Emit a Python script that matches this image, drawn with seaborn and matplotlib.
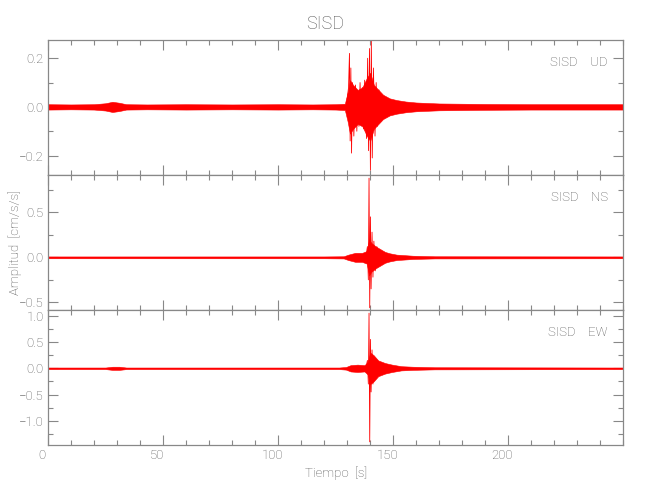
import numpy as np
import pandas as pd
import matplotlib
matplotlib.use("Agg")
import matplotlib.pyplot as plt
import matplotlib.transforms as mtransforms
from matplotlib.ticker import MultipleLocator, FuncFormatter
import seaborn as sns

# envelope of the dense noise band (half-width)
ud_env_t = [0, 10, 20, 25, 28, 31, 34, 43, 60, 80, 100, 115, 125, 129, 130.2, 131.2, 132.6, 134.6, 136.6,
            138.6, 140.0, 141.6, 143.6, 145.6, 148.5, 151.5, 155.5, 160, 170, 190, 210, 230, 250]
ud_env = [0.011, 0.010, 0.011, 0.015, 0.021, 0.017, 0.011, 0.010, 0.011, 0.010, 0.011, 0.010, 0.011, 0.013,
          0.06, 0.11, 0.09, 0.07, 0.08, 0.12, 0.14, 0.09, 0.07, 0.05, 0.035, 0.028, 0.022, 0.018, 0.014,
          0.012, 0.011, 0.011, 0.011]

ns_env_t = [0, 30, 60, 90, 120, 128.5, 130.5, 133.5, 136.5, 138.5, 139.5, 140.5, 142.5, 144.5, 146.5, 148.5,
            151.5, 154.5, 158.5, 168, 250]
ns_env = [0.01, 0.01, 0.01, 0.01, 0.01, 0.012, 0.03, 0.05, 0.05, 0.07, 0.2, 0.16, 0.12, 0.09, 0.06, 0.045,
          0.03, 0.025, 0.018, 0.012, 0.01]

ew_env_t = [0, 25, 28, 31, 34, 60, 100, 126.5, 129.5, 131.5, 134.5, 137.5, 139.0, 140.0, 141.5, 143.5,
            146.5, 149.5, 153.5, 158.5, 168, 250]
ew_env = [0.015, 0.015, 0.03, 0.03, 0.015, 0.015, 0.015, 0.015, 0.025, 0.06, 0.07, 0.06, 0.12, 0.3, 0.25,
          0.15, 0.1, 0.07, 0.04, 0.03, 0.02, 0.015]

# the big spikes, peak by peak
ud_pk_t = [129.6, 130.6, 131.0, 131.3, 131.6, 131.9, 132.3, 132.9, 133.6, 134.2, 134.6, 135.1, 135.6,
           136.1, 136.6, 137.1, 137.6, 138.4, 138.9, 139.3, 139.7, 140.1, 140.5, 140.9, 141.4, 142.1,
           142.6, 143.1, 143.8, 144.6, 145.6, 146.6]
ud_pk_v = [0.0, 0.08, 0.22, -0.14, 0.16, -0.19, 0.10, -0.12, 0.09, -0.10, 0.06, -0.08, 0.10, -0.07,
           0.08, -0.09, 0.11, -0.13, 0.20, -0.18, 0.24, -0.26, 0.27, -0.21, 0.16, -0.12, 0.10, -0.08,
           0.07, -0.06, 0.04, 0.0]

ns_pk_t = [138.1, 138.8, 139.2, 139.5, 139.8, 140.1, 140.4, 140.8, 141.2, 141.6, 142.2, 142.9, 143.8,
           145.1, 146.6]
ns_pk_v = [0.0, 0.12, -0.25, 0.88, -0.56, 0.45, -0.35, 0.28, -0.22, 0.18, -0.15, 0.12, -0.08, 0.05, 0.0]

ew_pk_t = [138.1, 138.8, 139.2, 139.5, 139.8, 140.1, 140.4, 140.8, 141.2, 141.6, 142.2, 142.9, 143.8,
           145.1, 146.6]
ew_pk_v = [0.0, 0.15, -0.3, 1.05, -1.40, 0.55, -0.45, 0.35, -0.30, 0.22, -0.18, 0.12, -0.08, 0.05, 0.0]

components = ["UD", "NS", "EW"]
xticks = [0, 50, 100, 150, 200]
ylims = [(-0.28, 0.275), (-0.585, 0.915), (-1.46, 1.11)]
ymajor = [0.2, 0.5, 0.5]
yminor = [0.1, 0.25, 0.25]

sns.set_theme(style="ticks")
plt.rcParams['font.family'] = ['Roboto', 'DejaVu Sans']
plt.rcParams['font.weight'] = 'light'
grey = "#888888"
txt = "#555555"


def fmt(v, pos):
    return f"{v:.1f}".replace("-", "\u2212")


fig, axes = plt.subplots(3, 1, figsize=(6.5, 5), dpi=100, sharex=True)
fig.subplots_adjust(left=0.0738, right=0.959, top=0.92, bottom=0.11, hspace=0)

envs = [(ud_env_t, ud_env), (ns_env_t, ns_env), (ew_env_t, ew_env)]
peaks = [(ud_pk_t, ud_pk_v), (ns_pk_t, ns_pk_v), (ew_pk_t, ew_pk_v)]

for i, ax in enumerate(axes):
    et, ev = envs[i]
    et = np.array(et)
    ev = np.array(ev)
    ax.fill_between(et, -ev, ev, color="red", lw=0.4)
    pt, pv = peaks[i]
    df = pd.DataFrame({"t": pt, "v": pv})
    sns.lineplot(data=df, x="t", y="v", ax=ax, color="red", lw=0.6,
                 estimator=None, sort=False, clip_on=False)
    ax.set_xlim(0, 250)
    ax.set_ylim(*ylims[i])
    ax.set_xlabel("")
    ax.set_ylabel("")
    ax.set_xticks(xticks)
    ax.xaxis.set_minor_locator(MultipleLocator(10))
    ax.yaxis.set_major_locator(MultipleLocator(ymajor[i]))
    ax.yaxis.set_minor_locator(MultipleLocator(yminor[i]))
    ax.yaxis.set_major_formatter(FuncFormatter(fmt))
    ax.tick_params(which="both", direction="in", top=True, right=True, colors=grey,
                   labelcolor=txt, labelsize=9.5, width=0.8, pad=3)
    ax.tick_params(which="major", length=7)
    ax.tick_params(which="minor", length=3.6)
    for s in ax.spines.values():
        s.set_color(grey)
        s.set_linewidth(0.9)
    ax.text(0.973, 0.837, "SISD    " + components[i], transform=ax.transAxes,
            ha="right", va="center", fontsize=9.5, color=txt)

# x tick labels sit a little left of their ticks in the original
shift = mtransforms.ScaledTranslation(-0.06, 0, fig.dpi_scale_trans)
for lab in axes[2].get_xticklabels():
    lab.set_transform(lab.get_transform() + shift)

axes[2].set_xlabel("Tiempo  [s]", fontsize=9.5, color=txt, fontweight="light", labelpad=3)
fig.text(0.023, 0.515, "Amplitud  [cm/s/s]", rotation=90, ha="center", va="center",
         fontsize=9.5, color=txt, fontweight="light")
fig.suptitle("SISD", y=0.97, fontsize=13, color=txt, fontweight="light")

fig.savefig("out.png", dpi=100)
